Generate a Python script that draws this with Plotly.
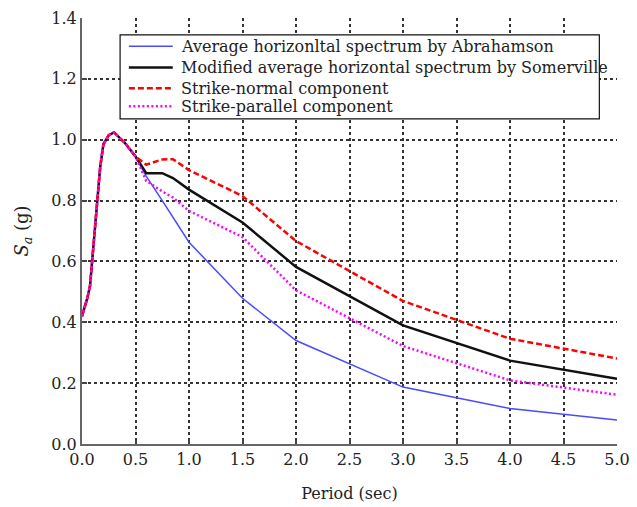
import plotly.graph_objects as go

# Spectral period (s)
period = [0, 0.05, 0.075, 0.1, 0.15, 0.17, 0.2, 0.25, 0.3, 0.4, 0.5,
          0.6, 0.75, 0.85, 1.0, 1.5, 2.0, 3.0, 4.0, 5.0]

# Spectral acceleration Sa (g) for each spectrum
abrahamson = [0.42, 0.48, 0.52, 0.62, 0.835, 0.91, 0.985, 1.015, 1.024, 0.99, 0.945,
              0.88, 0.80, 0.745, 0.663, 0.479, 0.340, 0.187, 0.117, 0.079]
somerville = [0.42, 0.48, 0.52, 0.62, 0.835, 0.91, 0.985, 1.015, 1.024, 0.99, 0.945,
              0.89, 0.89, 0.874, 0.836, 0.728, 0.582, 0.390, 0.274, 0.214]
strike_normal = [0.42, 0.48, 0.52, 0.62, 0.835, 0.91, 0.985, 1.015, 1.024, 0.99, 0.945,
                 0.918, 0.935, 0.936, 0.900, 0.815, 0.667, 0.470, 0.346, 0.281]
strike_parallel = [0.42, 0.48, 0.52, 0.62, 0.835, 0.91, 0.985, 1.015, 1.024, 0.99, 0.945,
                   0.865, 0.83, 0.81, 0.766, 0.680, 0.505, 0.322, 0.209, 0.162]

series_names = [
    "Average horizonltal spectrum by Abrahamson",
    "Modified average horizontal spectrum by Somerville",
    "Strike-normal component",
    "Strike-parallel component",
]

x_ticks = [0.0, 0.5, 1.0, 1.5, 2.0, 2.5, 3.0, 3.5, 4.0, 4.5, 5.0]
y_ticks = [0.0, 0.2, 0.4, 0.6, 0.8, 1.0, 1.2, 1.4]

FONT = "DejaVu Serif"
TEXT = "#222222"

line_styles = [
    dict(color="#4a4aff", width=1.5),
    dict(color="#111111", width=2.5),
    dict(color="#ff0000", width=2.5, dash="6px,3px"),
    dict(color="#ff00ff", width=2.5, dash="2px,2.5px"),
]

fig = go.Figure()
for name, values, style in zip(series_names,
                               [abrahamson, somerville, strike_normal, strike_parallel],
                               line_styles):
    fig.add_trace(go.Scatter(x=period, y=values, mode="lines", name=name,
                             line=style, showlegend=False))

axis_style = dict(showgrid=True, gridcolor="#333333", gridwidth=1.5, griddash="3px,3px",
                  zeroline=False, showline=True, linecolor="#666666", linewidth=2,
                  ticks="inside", ticklen=5, tickcolor="#444444", tickwidth=1.5,
                  ticklabeloverflow="allow",
                  tickfont=dict(family=FONT, size=16, color=TEXT))

fig.update_xaxes(range=[0, 5], tickvals=x_ticks, tickformat=".1f",
                 title=dict(text="Period (sec)", font=dict(family=FONT, size=16, color=TEXT),
                            standoff=20),
                 **axis_style)
fig.update_yaxes(range=[0, 1.4], tickvals=y_ticks, tickformat=".1f",
                 title=dict(text="<i>S</i><sub><i>a</i></sub> (g)",
                            font=dict(family=FONT, size=18, color=TEXT), standoff=18),
                 **axis_style)

# Boxed key in the upper part of the plot area (paper coordinates)
box_x0, box_x1, box_y0, box_y1 = 0.0712, 0.967, 0.763, 0.9606
sample_x0, sample_x1, text_x = 0.0876, 0.1697, 0.1807
row_y = [0.9336, 0.8838, 0.8353, 0.7928]

shapes = [dict(type="rect", xref="paper", yref="paper",
               x0=box_x0, x1=box_x1, y0=box_y0, y1=box_y1,
               fillcolor="white", line=dict(color="#111111", width=1.2), layer="above")]
annotations = []
for name, style, y in zip(series_names, line_styles, row_y):
    shapes.append(dict(type="line", xref="paper", yref="paper",
                       x0=sample_x0, x1=sample_x1, y0=y, y1=y,
                       line=style, layer="above"))
    annotations.append(dict(xref="paper", yref="paper", x=text_x, y=y,
                            xanchor="left", yanchor="middle", showarrow=False,
                            text=name, font=dict(family=FONT, size=16, color=TEXT)))

fig.update_layout(
    width=637, height=507,
    margin=dict(l=82, r=7, t=18, b=58),
    paper_bgcolor="white", plot_bgcolor="white",
    font=dict(family=FONT, color=TEXT),
    shapes=shapes, annotations=annotations,
    showlegend=False,
)

fig.write_html("out.html")
